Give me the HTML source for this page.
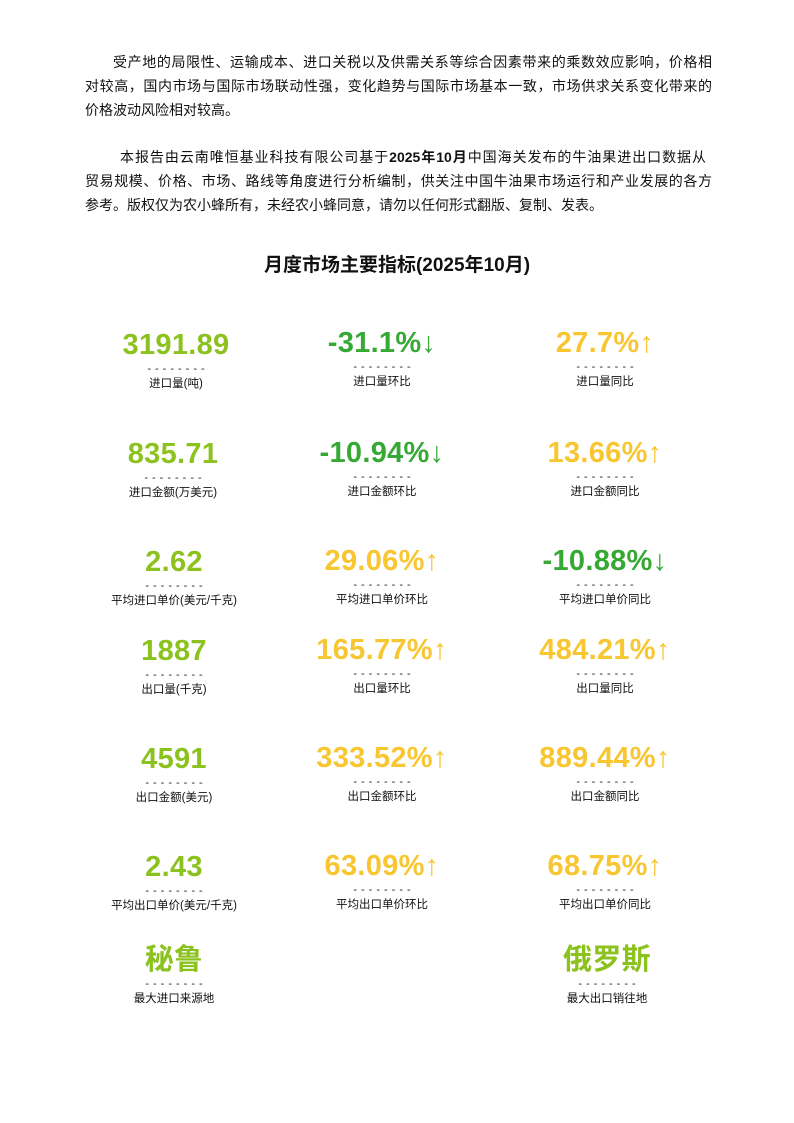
<!DOCTYPE html>
<html><head><meta charset="utf-8"><style>
body{margin:0;width:794px;height:1123px;background:#fff;position:relative;font-family:"Liberation Sans","Noto Sans CJK SC",sans-serif;color:#111;overflow:hidden}
.l{position:absolute;left:85px;width:627px;font-size:14px;line-height:20px;text-align:justify;text-align-last:justify;white-space:nowrap}
.s{text-align-last:left}
.t{position:absolute;left:0;width:794px;top:250px;text-align:center;font-size:19px;font-weight:bold}
.c{position:absolute;width:200px;text-align:center}
.n{font-size:29px;font-weight:bold;line-height:34px;letter-spacing:0.3px}
.d{font-size:11px;letter-spacing:4px;text-indent:4px;line-height:12px;margin-top:1px;color:#222}
.k{font-size:11.5px;line-height:16px;margin-top:1px}
.g1{color:#8cc21e}.g2{color:#36a935}.y{color:#f7c631}
</style></head><body>
<div class="l" style="top:52px;left:113px;width:599px">受产地的局限性、运输成本、进口关税以及供需关系等综合因素带来的乘数效应影响，价格相</div>
<div class="l" style="top:76px">对较高，国内市场与国际市场联动性强，变化趋势与国际市场基本一致，市场供求关系变化带来的</div>
<div class="l s" style="top:100px">价格波动风险相对较高。</div>
<div class="l" style="top:147px;left:120px;width:586px">本报告由云南唯恒基业科技有限公司基于<b>2025年10月</b>中国海关发布的牛油果进出口数据从</div>
<div class="l" style="top:171px">贸易规模、价格、市场、路线等角度进行分析编制，供关注中国牛油果市场运行和产业发展的各方</div>
<div class="l s" style="top:195px">参考。版权仅为农小蜂所有，未经农小蜂同意，请勿以任何形式翻版、复制、发表。</div>
<div class="t">月度市场主要指标(2025年10月)</div>

<div class="c" style="left:76px;top:328px"><div class="n g1">3191.89</div><div class="d">--------</div><div class="k">进口量(吨)</div></div>
<div class="c" style="left:282px;top:326px"><div class="n g2">-31.1%↓</div><div class="d">--------</div><div class="k">进口量环比</div></div>
<div class="c" style="left:505px;top:326px"><div class="n y">27.7%↑</div><div class="d">--------</div><div class="k">进口量同比</div></div>

<div class="c" style="left:73px;top:437px"><div class="n g1">835.71</div><div class="d">--------</div><div class="k">进口金额(万美元)</div></div>
<div class="c" style="left:282px;top:436px"><div class="n g2">-10.94%↓</div><div class="d">--------</div><div class="k">进口金额环比</div></div>
<div class="c" style="left:505px;top:436px"><div class="n y">13.66%↑</div><div class="d">--------</div><div class="k">进口金额同比</div></div>

<div class="c" style="left:74px;top:545px"><div class="n g1">2.62</div><div class="d">--------</div><div class="k">平均进口单价(美元/千克)</div></div>
<div class="c" style="left:282px;top:544px"><div class="n y">29.06%↑</div><div class="d">--------</div><div class="k">平均进口单价环比</div></div>
<div class="c" style="left:505px;top:544px"><div class="n g2">-10.88%↓</div><div class="d">--------</div><div class="k">平均进口单价同比</div></div>

<div class="c" style="left:74px;top:634px"><div class="n g1">1887</div><div class="d">--------</div><div class="k">出口量(千克)</div></div>
<div class="c" style="left:282px;top:633px"><div class="n y">165.77%↑</div><div class="d">--------</div><div class="k">出口量环比</div></div>
<div class="c" style="left:505px;top:633px"><div class="n y">484.21%↑</div><div class="d">--------</div><div class="k">出口量同比</div></div>

<div class="c" style="left:74px;top:742px"><div class="n g1">4591</div><div class="d">--------</div><div class="k">出口金额(美元)</div></div>
<div class="c" style="left:282px;top:741px"><div class="n y">333.52%↑</div><div class="d">--------</div><div class="k">出口金额环比</div></div>
<div class="c" style="left:505px;top:741px"><div class="n y">889.44%↑</div><div class="d">--------</div><div class="k">出口金额同比</div></div>

<div class="c" style="left:74px;top:850px"><div class="n g1">2.43</div><div class="d">--------</div><div class="k">平均出口单价(美元/千克)</div></div>
<div class="c" style="left:282px;top:849px"><div class="n y">63.09%↑</div><div class="d">--------</div><div class="k">平均出口单价环比</div></div>
<div class="c" style="left:505px;top:849px"><div class="n y">68.75%↑</div><div class="d">--------</div><div class="k">平均出口单价同比</div></div>

<div class="c" style="left:74px;top:943px"><div class="n g1">秘鲁</div><div class="d">--------</div><div class="k">最大进口来源地</div></div>
<div class="c" style="left:507px;top:943px"><div class="n g1">俄罗斯</div><div class="d">--------</div><div class="k">最大出口销往地</div></div>
</body></html>
